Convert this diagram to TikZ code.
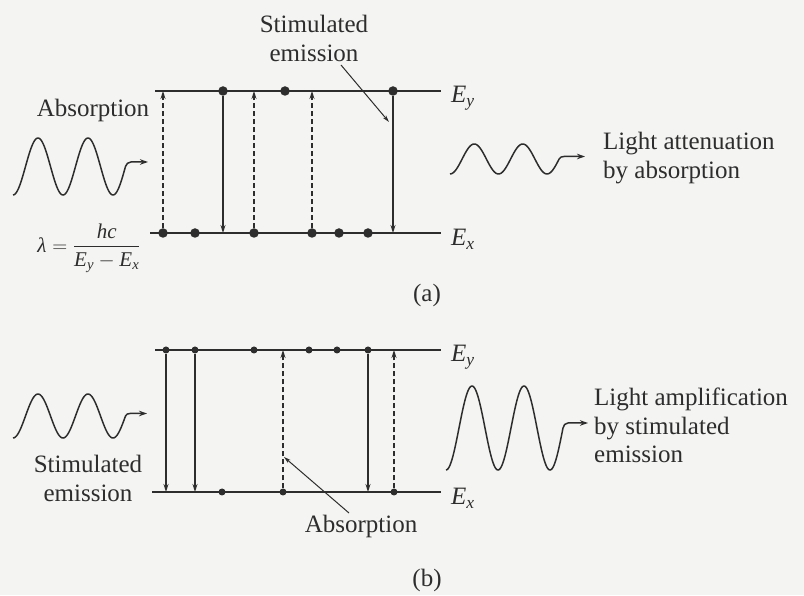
\documentclass[tikz,border=0pt]{standalone}
\usepackage{amsmath}
\usepackage{fontspec}
\setmainfont{Liberation Serif}
\usetikzlibrary{arrows.meta}
\definecolor{ink}{RGB}{45,45,45}
\definecolor{bg}{RGB}{244,244,242}
\newcommand{\itv}[1]{\text{\itshape #1}}
\begin{document}
\begin{tikzpicture}[x=1pt,y=1pt,
  level/.style={line width=1.6pt, draw=ink},
  dotA/.style={circle, fill=ink, inner sep=0pt, minimum size=9.5pt},
  dotB/.style={circle, fill=ink, inner sep=0pt, minimum size=7pt},
  emit/.style={line width=1.1pt, draw=ink, -{Stealth[length=8pt,width=5pt]}},
  absorb/.style={emit, dash pattern=on 5pt off 3pt},
  wave/.style={line width=1.5pt, draw=ink, -{Stealth[length=8pt,width=5.5pt]}},
  leader/.style={line width=1pt, draw=ink, -{Stealth[length=7pt,width=4pt]}},
  lbl/.style={text=ink, inner sep=0pt, font=\fontsize{25}{28.5}\selectfont},
]
\fill[bg] (0,0) rectangle (804,595);
\useasboundingbox (0,0) rectangle (804,595);

% ---------------- panel (a) ----------------
\coordinate (aTL) at (155,504); \coordinate (aTR) at (441,504);
\coordinate (aBL) at (150,362); \coordinate (aBR) at (441,362);
\draw[level] (aTL) -- (aTR);
\draw[level] (aBL) -- (aBR);
\node[lbl, anchor=base west] (aEy) at (451,492) {$\itv{E}_{\itv{y}}$};
\node[lbl, anchor=base west] (aEx) at (451,349) {$\itv{E}_{\itv{x}}$};

\node[dotA] (at1) at (223,504) {};
\node[dotA] (at2) at (285,504) {};
\node[dotA] (at3) at (393,504) {};
\node[dotA] (ab1) at (163,362) {};
\node[dotA] (ab2) at (195,362) {};
\node[dotA] (ab3) at (254,362) {};
\node[dotA] (ab4) at (312,362) {};
\node[dotA] (ab5) at (339,362) {};
\node[dotA] (ab6) at (368,362) {};

\draw[absorb] (ab1) -- (ab1 |- aTL);
\draw[absorb] (ab3) -- (ab3 |- aTL);
\draw[absorb] (ab4) -- (ab4 |- aTL);
\draw[emit] (at1) -- (at1 |- aBL);
\draw[emit] (at3) -- (at3 |- aBL);

\node[lbl, align=center, anchor=north] (stimA) at (314,580) {Stimulated\\emission};
\coordinate (sA) at (341,530);
\coordinate (tA) at (389,473);
\draw[leader] (sA) -- (tA);

\node[lbl, anchor=base] (absA) at (93,478) {Absorption};
\node[text=ink, inner sep=0pt, font=\fontsize{21}{25}\selectfont] (lam) at (89,347)
  {$\itv{λ} = \dfrac{\itv{hc}}{\itv{E}_{\itv{y}} - \itv{E}_{\itv{x}}}$};

\draw[wave] plot[domain=13:125.5, samples=120] (\x,{428.5-28.5*cos(7.2*(\x-13))})
  to[out=74,in=180] (131,433) -- (148,433);
\draw[wave] plot[domain=450:559.1, samples=120] (\x,{436-15*cos(7.4227*(\x-450))})
  to[out=63,in=180] (564,438.5) -- (585,438.5);

\node[lbl, align=left, anchor=north west] (attn) at (603,463) {Light attenuation\\by absorption};
\node[lbl] (capA) at (427,300) {(a)};

% ---------------- panel (b) ----------------
\coordinate (bTL) at (155,245); \coordinate (bTR) at (441,245);
\coordinate (bBL) at (152,103); \coordinate (bBR) at (441,103);
\draw[level] (bTL) -- (bTR);
\draw[level] (bBL) -- (bBR);
\node[lbl, anchor=base west] (bEy) at (451,233) {$\itv{E}_{\itv{y}}$};
\node[lbl, anchor=base west] (bEx) at (451,90) {$\itv{E}_{\itv{x}}$};

\node[dotB] (bt1) at (166,245) {};
\node[dotB] (bt2) at (195,245) {};
\node[dotB] (bt3) at (254,245) {};
\node[dotB] (bt4) at (309,245) {};
\node[dotB] (bt5) at (337,245) {};
\node[dotB] (bt6) at (368,245) {};
\node[dotB] (bb1) at (222,103) {};
\node[dotB] (bb2) at (283,103) {};
\node[dotB] (bb3) at (394,103) {};

\draw[emit] (bt1) -- (bt1 |- bBL);
\draw[emit] (bt2) -- (bt2 |- bBL);
\draw[emit] (bt6) -- (bt6 |- bBL);
\draw[absorb] (bb2) -- (bb2 |- bTL);
\draw[absorb] (bb3) -- (bb3 |- bTL);

\node[lbl, align=center, anchor=north] (stimB) at (88,140) {Stimulated\\emission};
\node[lbl, anchor=base] (absB) at (361,63) {Absorption};
\coordinate (sB) at (349,82);
\coordinate (tB) at (284,138);
\draw[leader] (sB) -- (tB);

\draw[wave] plot[domain=13:125.5, samples=120] (\x,{179-22*cos(7.2*(\x-13))})
  to[out=70,in=180] (130,181.5) -- (147,181.5);
\draw[wave] plot[domain=446:563, samples=120] (\x,{167-42*cos(6.923*(\x-446))})
  to[out=79,in=180] (568,172) -- (588,172);

\node[lbl, align=left, anchor=north west] (ampl) at (594,207) {Light amplification\\by stimulated\\emission};
\node[lbl] (capB) at (427,15) {(b)};
\end{tikzpicture}
\end{document}
